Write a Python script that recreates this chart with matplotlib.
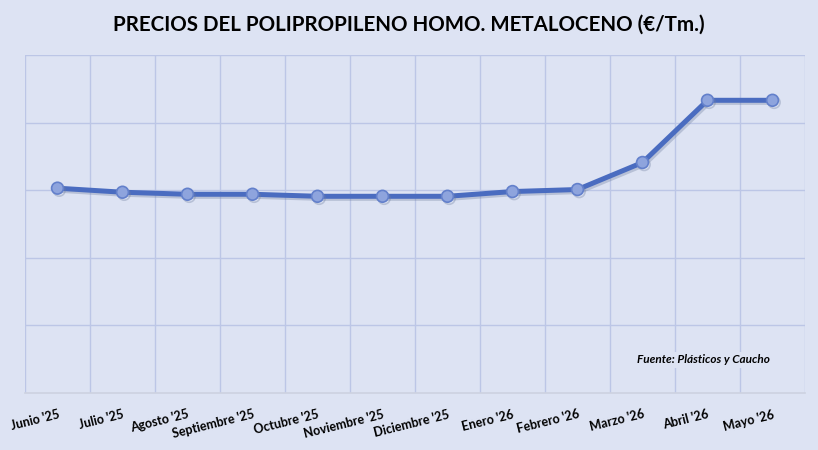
import matplotlib.pyplot as plt
import matplotlib.patheffects as pe
import numpy as np

months = ["Junio '25", "Julio '25", "Agosto '25", "Septiembre '25", "Octubre '25",
          "Noviembre '25", "Diciembre '25", "Enero '26", "Febrero '26", "Marzo '26",
          "Abril '26", "Mayo '26"]
prices = [1703, 1697, 1694, 1694, 1691, 1691, 1691, 1698, 1701, 1741, 1833, 1833]

y_min, y_max, y_step = 1400, 1900, 100

bg = '#dde3f3'
grid_col = '#bcc6e6'
line_col = '#4a6cc0'

fig = plt.figure(figsize=(8.18, 4.5), dpi=100, facecolor=bg)
ax = fig.add_axes([25 / 818, 1 - 393 / 450, 780 / 818, 338 / 450])
ax.set_facecolor(bg)

x = np.arange(len(months))
ax.plot(x, prices, color=line_col, lw=3.6, marker='o', markersize=8.5,
        markerfacecolor='#8ea4dd', markeredgecolor='#6380cb', markeredgewidth=1.2,
        zorder=3,
        path_effects=[pe.SimpleLineShadow(offset=(1.2, -1.5), shadow_color='#7080a0', alpha=0.35),
                      pe.Normal()])

ax.set_xlim(-0.5, len(months) - 0.5)
ax.set_ylim(y_min, y_max)

# vertical grid between categories, horizontal grid at steps
for xb in np.arange(-0.5, len(months), 1.0):
    ax.axvline(xb, color=grid_col, lw=1, zorder=1)
for yv in np.arange(y_min + y_step, y_max + 1, y_step):
    ax.axhline(yv, color=grid_col, lw=1, zorder=1)

for s in ['top', 'right', 'left']:
    ax.spines[s].set_visible(False)
ax.spines['bottom'].set_color('#cdd2e0')
ax.spines['bottom'].set_linewidth(1.2)

ax.set_yticks([])
ax.set_xticks(x)
ax.set_xticklabels(months, rotation=14, ha='right', rotation_mode='anchor',
                   fontsize=9, fontweight='bold', family=['Lato', 'DejaVu Sans'])
ax.tick_params(axis='x', length=0, pad=11)

fig.text(0.5, 1 - 25 / 450, 'PRECIOS DEL POLIPROPILENO HOMO. METALOCENO (€/Tm.)',
         ha='center', va='center', fontsize=14.8, fontweight='bold',
         family=['Lato', 'DejaVu Sans'])

ax.text(0.955, 0.098, 'Fuente: Plásticos y Caucho', transform=ax.transAxes,
        ha='right', va='center', fontsize=8.5, fontweight='bold', fontstyle='italic',
        family=['Lato', 'DejaVu Sans'], zorder=4,
        bbox=dict(facecolor=bg, edgecolor='none', pad=2))

fig.savefig('out.png', dpi=100, facecolor=bg)
